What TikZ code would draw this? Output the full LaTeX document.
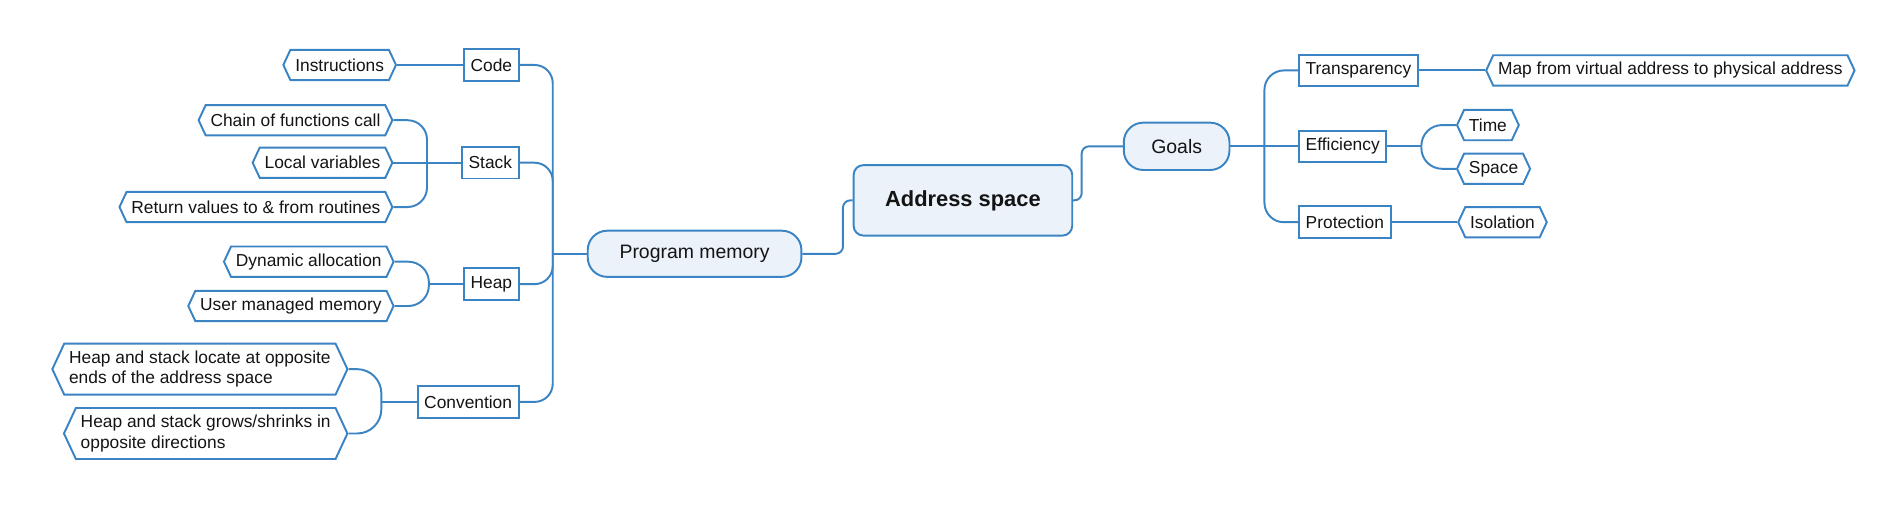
\documentclass[tikz,border=0pt]{standalone}
\usepackage{fontspec}
\setmainfont{Liberation Sans}
\usetikzlibrary{shapes.symbols,calc}
\definecolor{mmblue}{HTML}{3A84C4}
\definecolor{mmfill}{HTML}{EBF2FA}
\definecolor{mmtext}{HTML}{141414}
\begin{document}
\begin{tikzpicture}[x=1pt,y=-1pt,
  every node/.style={font=\fontsize{14.3}{17}\selectfont, text=mmtext},
  conn/.style={draw=mmblue, line width=1.6pt},
  topic/.style={draw=mmblue, line width=1.6pt, fill=mmfill, rounded corners=16pt, inner sep=2pt},
  cat/.style={draw=mmblue, line width=1.6pt, fill=white, minimum height=26pt, inner xsep=5.5pt, inner ysep=2pt},
  leaf/.style={draw=mmblue, line width=1.6pt, fill=white, shape=signal, signal to=west and east, signal pointer angle=130, minimum height=25pt, inner xsep=4pt, inner ysep=2pt},
]
\useasboundingbox (0,0) rectangle (1568,420);

% main topics
\node[topic, font=\bfseries\fontsize{18}{22}\selectfont, minimum width=180pt, minimum height=58pt, rounded corners=8pt] (as) at (793,165) {Address space};
\node[topic, font=\fontsize{16}{19}\selectfont, minimum width=176pt, minimum height=38pt] (pm) at (572,209) {Program memory};
\node[topic, font=\fontsize{16}{19}\selectfont, minimum width=87pt, minimum height=39pt] (goals) at (969,120.5) {Goals};

% categories
\node[cat, anchor=east] (code) at (428,53.5) {Code};
\node[cat, anchor=east] (stack) at (428,134) {Stack};
\node[cat, anchor=east] (heap) at (428,234) {Heap};
\node[cat, anchor=east] (conv) at (428,331) {Convention};
\node[cat, anchor=west] (transp) at (1069,58) {Transparency};
\node[cat, anchor=west] (eff) at (1069,120.5) {Efficiency};
\node[cat, anchor=west] (prot) at (1069,183) {Protection};

% leaves
\node[leaf, anchor=east] (instr) at (327,53.5) {Instructions};
\node[leaf, anchor=east] (chain) at (324,99) {Chain of functions call};
\node[leaf, anchor=east] (local) at (324,134) {Local variables};
\node[leaf, anchor=east] (ret) at (324,170.5) {Return values to \& from routines};
\node[leaf, anchor=east] (dyn) at (325,215.5) {Dynamic allocation};
\node[leaf, anchor=east] (user) at (325,252) {User managed memory};
\node[leaf, anchor=east, align=left, minimum height=42pt] (hl) at (287,304) {Heap and stack locate at opposite\\ends of the address space};
\node[leaf, anchor=east, align=left, minimum height=42pt] (hg) at (287,357) {Heap and stack grows/shrinks in\\opposite directions};
\node[leaf, anchor=west] (map) at (1223,58) {Map from virtual address to physical address};
\node[leaf, anchor=west] (time) at (1199,103) {Time};
\node[leaf, anchor=west] (space) at (1199,139) {Space};
\node[leaf, anchor=west] (iso) at (1200,183) {Isolation};

% junction points
\coordinate (pmj) at ([xshift=-28pt]pm.west);
\coordinate (asj) at ([xshift=-8pt]as.west);
\coordinate (gj) at ([xshift=7pt]as.east);
\coordinate (goj) at ([xshift=28pt]goals.east);
\coordinate (ej) at ([xshift=28pt]eff.east);
\coordinate (sj) at ([xshift=-28pt]stack.west);
\coordinate (hj) at ([xshift=-28pt]heap.west);
\coordinate (cj) at ([xshift=-29pt]conv.west);

% connectors
\draw[conn, rounded corners=6pt] (pm.east) -| (asj) -- (as.west);
\draw[conn, rounded corners=6pt] (as.east) -- (gj) |- (goals.west);

\draw[conn] (pm.west) -- (pmj);
\draw[conn, rounded corners=15pt] (pmj) |- (code.east);
\draw[conn, rounded corners=15pt] (pmj) |- (stack.east);
\draw[conn, rounded corners=15pt] (pmj) |- (heap.east);
\draw[conn, rounded corners=15pt] (pmj) |- (conv.east);

\draw[conn] (code.west) -- (instr.east);
\draw[conn] (stack.west) -- (local.east);
\draw[conn, rounded corners=16pt] (sj) |- (chain.east);
\draw[conn, rounded corners=16pt] (sj) |- (ret.east);
\draw[conn] (heap.west) -- (hj);
\draw[conn, rounded corners=17pt] (hj) |- (dyn.east);
\draw[conn, rounded corners=17pt] (hj) |- (user.east);
\draw[conn] (conv.west) -- (cj);
\draw[conn, rounded corners=20pt] (cj) |- (hl.east);
\draw[conn, rounded corners=20pt] (cj) |- (hg.east);

\draw[conn] (goals.east) -- (goj);
\draw[conn, rounded corners=16pt] (goj) |- (transp.west);
\draw[conn] (goj) -- (eff.west);
\draw[conn, rounded corners=16pt] (goj) |- (prot.west);
\draw[conn] (transp.east) -- (map.west);
\draw[conn] (eff.east) -- (ej);
\draw[conn, rounded corners=17pt] (ej) |- (time.west);
\draw[conn, rounded corners=17pt] (ej) |- (space.west);
\draw[conn] (prot.east) -- (iso.west);
\end{tikzpicture}
\end{document}
